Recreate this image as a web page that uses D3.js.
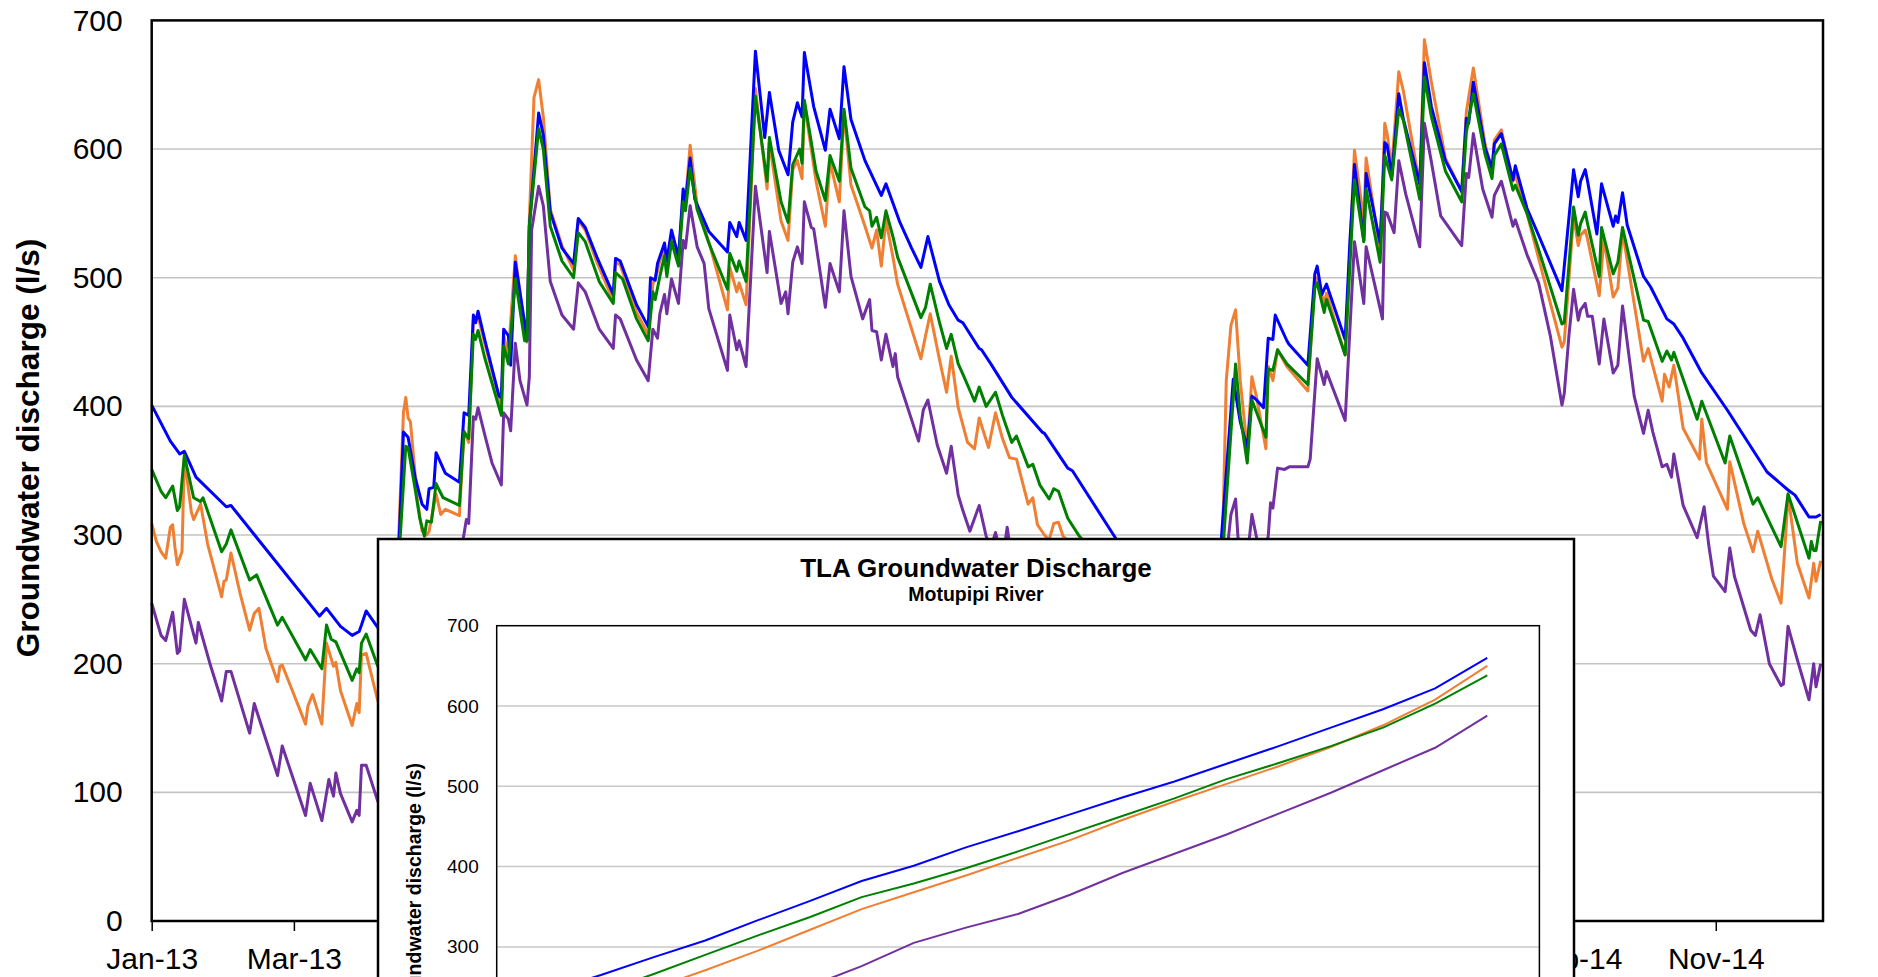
<!DOCTYPE html>
<html>
<head>
<meta charset="utf-8">
<script src="https://cdn.jsdelivr.net/npm/d3@7"></script>
<style>
  body { margin: 0; background: #fff; overflow: hidden; }
  text { font-family: Arial, "Liberation Sans", sans-serif; }
</style>
</head>
<body>
<div id="chart"></div>
<script>
//groundwater discharge, daily from 1 Jan 2013 (x = day number)

//tick labels
const yTicks = [0, 100, 200, 300, 400, 500, 600, 700];
const xTickDays = [0, 61, 122, 183, 244, 305, 366, 427, 488, 549, 610, 671];
const xTickLabels = ["Jan-13", "Mar-13", "May-13", "Jul-13", "Sep-13", "Nov-13",
                     "Jan-14", "Mar-14", "May-14", "Jul-14", "Sep-14", "Nov-14"];

//main series, [day, l/s]
const flowBlue = [
  [0,401],[8,373],[12,363],[14,365],[19,345],[32,322],[34,323],[72,237],[75,243],[81,229],[86,222],[89,225],[90,230],[92,241],[97,228],
  [101,222],[104,218],[106,290],
  [108,380],[110,376],[113,345],[116,324],[118,320],[119,336],[121,337],[122,364],[126,348],[132,341],[134,395],[136,393],[138,471],[139,465],[140,474],[143,451],[149,408],[150,407],[151,460],[153,455],[154,432],[156,512],[160,465],[161,451],[162,540],[166,628],[168,611],[171,551],[176,523],[181,511],[183,546],[186,539],[191,516],[198,487],[199,515],[201,513],[208,479],[213,462],[214,500],[216,498],[217,511],
  [220,527],[221,513],[223,537],[226,516],[228,569],[229,559],[231,593],[233,561],[239,536],[247,520],[248,543],[251,532],[252,543],[255,529],[259,676],[263,609],[265,644],[269,599],[273,580],[275,621],[277,636],[279,625],[280,675],[284,633],[289,599],[291,631],[295,608],[297,664],[300,623],[306,591],[313,564],[315,573],[321,543],[326,523],[330,508],[333,532],[338,497],[342,479],[346,467],
  [348,465],[355,445],[356,444],[360,433],[369,407],[382,380],[383,379],[393,352],[395,350],[413,299],
  [425,265],[440,235],[455,215],[458,240],
  [459,300],[464,421],[467,388],[470,368],
  [472,408],[474,405],[477,399],[479,453],[481,452],[482,471],[487,451],[488,448],[496,432],[499,503],[500,509],[502,487],[504,495],[512,452],[514,527],[516,588],[520,529],[521,581],[527,527],[529,605],[530,603],[532,579],[535,643],[537,623],[544,573],[546,667],[549,633],[555,591],[562,567],[564,624],[565,620],[567,652],[572,601],[575,585],[576,604],[579,612],[584,576],[585,587],[590,554],[595,533],
  [605,490],[610,584],[612,563],[613,575],[615,584],[616,575],[620,534],[622,573],[627,540],[628,548],[629,543],[631,566],[633,541],[640,501],[643,493],[650,468],[653,464],[657,453],[665,426],[676,397],[693,349],[702,335],[705,331],[711,314],[714,314],[716,316]
];

const flowOrange = [
  [0,309],[2,295],[4,287],[6,282],[8,306],[9,308],[10,290],[11,277],[13,287],[14,360],[17,318],[18,312],[19,316],[21,324],[24,293],[30,252],[31,264],[32,265],[34,286],[38,254],[42,226],[44,239],[46,243],[49,212],[54,186],[55,198],[56,199],[61,176],[66,153],[67,167],[69,176],[73,153],[75,216],[78,198],[79,201],[81,179],[86,152],[88,169],[89,162],[90,207],[92,208],[97,171],
  [101,162],[104,158],[106,300],
  [108,395],[109,407],[110,391],[111,388],[114,327],[116,303],[118,300],[119,303],[122,332],[124,316],[126,320],[132,315],[134,381],[136,372],[138,467],[140,470],[143,448],[150,400],[151,455],[153,440],[156,517],[160,460],[161,450],[162,545],[164,640],[166,654],[168,625],[171,553],[176,525],[181,506],[183,545],[186,537],[191,512],[198,482],[199,512],[201,510],[208,473],[213,456],[215,495],[217,505],[218,513],
  [220,522],[221,509],[223,535],[226,513],[228,565],[229,560],[231,603],[234,556],[239,528],[247,475],[248,508],[251,489],[252,496],[255,479],[259,647],[264,569],[265,605],[270,544],[273,529],[275,584],[277,591],[279,577],[280,636],[285,575],[289,540],[291,590],[295,559],[297,629],[300,572],[306,540],[309,523],[311,537],[313,509],[315,545],[318,516],[320,495],[330,437],[332,455],[334,472],[338,436],[341,411],[343,439],[346,399],
  [350,372],[353,367],[355,391],[359,368],[362,395],[365,375],[368,360],[371,359],[376,324],[378,329],[380,308],[383,300],
  [385,296],[387,309],[389,310],[391,299],[400,285],[420,245],[440,215],[455,200],[459,260],
  [461,420],[463,463],[465,475],[467,420],[470,367],
  [472,423],[474,407],[478,367],[479,431],[481,420],[483,444],[487,431],[496,412],[499,497],[500,500],[503,480],[504,488],[512,440],[516,599],[520,545],[521,593],[527,520],[529,620],[530,612],[532,585],[535,660],[537,645],[544,572],[546,685],[549,652],[555,593],[562,567],[564,629],[567,663],[572,604],[575,583],[576,607],[579,615],[584,575],[585,580],[590,550],[596,508],
  [605,446],[606,450],[610,548],[612,525],[613,533],[615,537],[616,530],[621,486],[623,530],[627,485],[629,492],[631,536],[640,435],[642,445],[648,404],[649,425],[651,415],[653,432],[657,383],[664,359],[665,390],[667,356],[676,320],[677,357],[683,309],[687,287],[689,303],[695,266],[699,247],[701,300],[702,331],[706,278],[711,251],[713,278],[714,264],[716,280]
];

const flowGreen = [
  [0,351],[4,334],[6,329],[9,338],[11,319],[12,322],[14,362],[18,329],[21,326],[22,329],[30,287],[32,293],[34,304],[42,265],[45,269],[54,230],[56,236],[66,203],[68,211],[73,196],[75,230],[77,219],[79,217],[86,187],[88,196],[89,193],[90,216],[92,223],[97,198],
  [101,190],[104,186],[106,280],
  [109,369],[110,368],[113,336],[115,313],[117,299],[118,311],[120,310],[122,340],[125,329],[132,323],[134,380],[136,375],[138,456],[139,452],[140,459],[143,437],[150,393],[151,447],[153,433],[156,499],[160,451],[161,451],[162,540],[166,616],[168,600],[171,540],[176,513],[181,500],[183,535],[186,528],[192,497],[198,480],[199,504],[202,499],[208,468],[213,451],[215,489],[216,483],[218,501],
  [220,517],[221,501],[223,528],[226,509],[228,559],[229,552],[231,585],[234,553],[239,527],[247,491],[248,519],[251,505],[252,513],[255,497],[259,641],[264,575],[265,609],[270,559],[273,543],[275,588],[278,600],[279,589],[280,638],[285,583],[289,560],[291,595],[295,575],[297,631],[300,585],[306,555],[308,552],[309,540],[311,547],[313,531],[315,552],[318,532],[320,516],[330,469],[332,477],[334,495],[338,465],[341,445],[343,456],[346,433],
  [348,425],[353,404],[355,415],[358,400],[362,411],[365,393],[369,372],[371,377],[376,353],[378,355],[381,339],[385,328],[387,336],[389,334],[393,313],[398,299],
  [405,285],[420,255],[440,225],[455,210],[459,250],
  [460,300],[465,433],[467,393],[470,356],
  [472,405],[478,376],[479,429],[481,428],[483,444],[487,433],[496,417],[499,492],[500,496],[503,473],[504,483],[512,440],[516,576],[520,528],[521,569],[527,512],[529,595],[532,576],[535,631],[537,622],[544,561],[546,656],[549,625],[555,583],[562,559],[564,613],[567,643],[572,596],[575,577],[576,595],[579,604],[584,568],[585,572],[590,550],[595,522],
  [605,464],[606,465],[610,555],[612,533],[613,542],[615,551],[616,542],[621,501],[622,539],[627,503],[629,512],[631,539],[640,467],[642,466],[648,435],[650,443],[652,436],[653,442],[663,390],[665,404],[675,356],[677,377],[687,324],[689,329],[699,291],[702,332],[711,282],[712,295],[713,288],[714,288],[716,311]
];

const flowPurple = [
  [0,247],[4,222],[6,218],[9,240],[11,208],[12,210],[14,250],[19,216],[20,232],[25,200],[30,171],[32,194],[34,194],[42,146],[44,169],[54,113],[56,136],[66,82],[68,107],[73,78],[76,110],[78,97],[79,115],[81,99],[86,77],[88,86],[89,82],[90,121],[92,121],[97,93],
  [101,85],[106,95],[110,190],[115,230],[120,215],[125,240],[130,225],[133,290],
  [135,312],[136,309],[138,392],[139,390],[140,399],[143,377],[146,356],[150,339],[151,395],[153,390],[154,381],[156,449],[158,420],[161,401],[162,423],[163,537],[166,571],[168,556],[171,497],[176,471],[181,460],[183,496],[186,489],[192,460],[198,445],[199,471],[201,468],[208,436],[213,420],[215,460],[217,453],[218,472],
  [220,487],[221,472],[223,499],[226,480],[228,529],[229,523],[231,556],[234,524],[237,511],[239,476],[247,428],[248,471],[251,444],[252,451],[255,431],[259,571],[264,504],[265,536],[270,480],[272,489],[273,472],[275,512],[277,524],[279,511],[280,559],[283,539],[284,538],[289,477],[291,511],[295,489],[297,552],[300,501],[305,468],[308,483],[309,459],[311,458],[313,436],[315,456],[318,431],[319,441],[320,423],[329,373],[331,397],[333,405],[337,370],[341,348],[343,369],[346,331],
  [348,319],[351,303],[355,323],[358,299],
  [360,290],[362,302],[365,280],[367,306],[370,270],[390,230],[420,185],[445,160],[455,170],[460,240],
  [462,299],[463,316],[465,328],[466,299],[468,270],[471,299],[472,316],[474,298],[476,280],[479,299],[480,325],[481,321],[483,352],[486,351],[488,353],[496,353],[497,359],[500,437],[503,417],[504,427],[512,389],[516,528],[520,480],[521,524],[528,468],[529,551],[530,550],[533,535],[535,591],[538,565],[544,524],[546,620],[549,590],[553,548],[562,525],[564,581],[565,578],[567,612],[571,569],[575,547],[576,564],[579,575],[584,540],[585,545],[590,518],[595,496],
  [600,455],[605,401],[606,410],[608,455],[610,491],[612,467],[613,475],[615,480],[616,470],[618,470],[621,433],[623,468],[627,426],[629,432],[631,478],[636,408],[640,379],[642,397],[644,380],[648,353],[650,355],[652,345],[653,363],[657,323],[663,298],[666,322],[668,292],[670,268],[675,256],[677,290],[679,268],[686,226],[688,222],[690,238],[694,200],[699,183],[700,184],[702,229],[706,203],[711,172],[713,200],[714,182],[716,200]
];

//inset chart (its x axis lies below the visible area)
const insetTicks = [0, 100, 200, 300, 400, 500, 600, 700];
const insetX = [5, 10, 15, 20, 25, 30, 35, 40, 45, 50, 55, 60, 65, 70, 75, 80, 85, 90, 95];
const insetBlue   = [245, 265, 287, 308, 333, 357, 382, 401, 424, 444, 465, 486, 506, 528, 550, 573, 596, 622, 660];
const insetOrange = [205, 225, 248, 271, 295, 321, 347, 368, 389, 411, 433, 458, 481, 503, 525, 549, 576, 608, 650];
const insetGreen  = [225, 243, 266, 290, 314, 337, 362, 379, 398, 419, 441, 463, 485, 509, 529, 550, 573, 603, 638];
const insetPurple = [140, 160, 182, 204, 227, 251, 276, 305, 324, 341, 365, 392, 416, 440, 466, 492, 520, 548, 588];

const colors = { blue: "#0000ff", orange: "#ef7f32", green: "#008000", purple: "#7030a0" };

//inset box position
const insetLeft = 378, insetRight = 1574, insetTop = 539;

var svg = d3.select("#chart").append("svg")
    .attr("width", 1878)
    .attr("height", 977);

//main scales
var x = d3.scaleLinear().domain([0, 717]).range([151.7, 1823]);
var y = d3.scaleLinear().domain([0, 700]).range([921, 20.4]);

//gridlines
svg.append("g")
    .selectAll("line")
    .data(yTicks.filter(function(d) { return d > 0 && d < 700; }))
    .enter()
    .append("line")
    .attr("x1", x(0)).attr("x2", x(717))
    .attr("y1", function(d) { return y(d); })
    .attr("y2", function(d) { return y(d); })
    .attr("stroke", "#c4c4c4")
    .attr("stroke-width", 1.6);

//series lines, later ones on top
var line = d3.line()
    .x(function(d) { return x(d[0]); })
    .y(function(d) { return y(d[1]); });

[[flowPurple, colors.purple], [flowOrange, colors.orange], [flowBlue, colors.blue], [flowGreen, colors.green]]
  .forEach(function(s) {
    svg.append("path")
        .datum(s[0])
        .attr("d", line)
        .attr("fill", "none")
        .attr("stroke", s[1])
        .attr("stroke-width", 3)
        .attr("stroke-linejoin", "round");
  });

//y axis labels
var yAxis = svg.append("g")
    .attr("transform", "translate(" + x(0) + ",0)")
    .call(d3.axisLeft(y).tickValues(yTicks).tickSize(0).tickPadding(29));
yAxis.select(".domain").remove();
yAxis.selectAll("text")
    .attr("font-size", 30)
    .attr("font-family", "Arial, 'Liberation Sans', sans-serif")
    .attr("fill", "#000");

//x axis
var xAxis = svg.append("g")
    .attr("transform", "translate(0," + y(0) + ")")
    .call(d3.axisBottom(x).tickValues(xTickDays)
        .tickFormat(function(d, i) { return xTickLabels[i]; })
        .tickSize(10).tickPadding(17));
xAxis.select(".domain").remove();
xAxis.selectAll("line").attr("stroke", "#000").attr("stroke-width", 1.5);
xAxis.selectAll("text")
    .attr("font-size", 30)
    .attr("font-family", "Arial, 'Liberation Sans', sans-serif")
    .attr("fill", "#000");

//labels that sit fully under the inset can't be seen anyway
xAxis.selectAll(".tick")
    .filter(function(d) { return x(d) - 50 > insetLeft && x(d) + 50 < insetRight; })
    .select("text").remove();

//plot frame
svg.append("rect")
    .attr("x", x(0)).attr("y", y(700))
    .attr("width", x(717) - x(0))
    .attr("height", y(0) - y(700))
    .attr("fill", "none")
    .attr("stroke", "#000")
    .attr("stroke-width", 2.5);

//y-axis title
svg.append("text")
    .attr("transform", "translate(39,448) rotate(-90)")
    .attr("text-anchor", "middle")
    .attr("font-size", 31.5)
    .attr("font-weight", "bold")
    .text("Groundwater discharge (l/s)");

// ---- inset chart pasted over the main one ----
var inset = svg.append("g");

inset.append("rect")
    .attr("x", insetLeft).attr("y", insetTop)
    .attr("width", insetRight - insetLeft).attr("height", 700)
    .attr("fill", "#fff")
    .attr("stroke", "#000")
    .attr("stroke-width", 2.5);

var ix = d3.scaleLinear().domain([0, 100]).range([496.7, 1539.4]);
var iy = d3.scaleLinear().domain([0, 700]).range([1187.8, 625.7]);

inset.append("g")
    .selectAll("line")
    .data(insetTicks.filter(function(d) { return d > 0 && d < 700; }))
    .enter()
    .append("line")
    .attr("x1", ix(0)).attr("x2", ix(100))
    .attr("y1", function(d) { return iy(d); })
    .attr("y2", function(d) { return iy(d); })
    .attr("stroke", "#c8c8c8")
    .attr("stroke-width", 1.5);

var iline = d3.line()
    .x(function(d, i) { return ix(insetX[i]); })
    .y(function(d) { return iy(d); });

[[insetPurple, colors.purple], [insetOrange, colors.orange], [insetGreen, colors.green], [insetBlue, colors.blue]]
  .forEach(function(s) {
    inset.append("path")
        .datum(s[0])
        .attr("d", iline)
        .attr("fill", "none")
        .attr("stroke", s[1])
        .attr("stroke-width", 2);
  });

inset.append("rect")
    .attr("x", ix(0)).attr("y", iy(700))
    .attr("width", ix(100) - ix(0))
    .attr("height", iy(0) - iy(700))
    .attr("fill", "none")
    .attr("stroke", "#000")
    .attr("stroke-width", 1.5);

var iyAxis = inset.append("g")
    .attr("transform", "translate(" + ix(0) + ",0)")
    .call(d3.axisLeft(iy).tickValues(insetTicks).tickSize(0).tickPadding(18));
iyAxis.select(".domain").remove();
iyAxis.selectAll("text")
    .attr("font-size", 19)
    .attr("font-family", "Arial, 'Liberation Sans', sans-serif")
    .attr("fill", "#000");

//inset titles
inset.append("text")
    .attr("x", 976).attr("y", 577)
    .attr("text-anchor", "middle")
    .attr("font-size", 26)
    .attr("font-weight", "bold")
    .text("TLA Groundwater Discharge");

inset.append("text")
    .attr("x", 976).attr("y", 601)
    .attr("text-anchor", "middle")
    .attr("font-size", 19.5)
    .attr("font-weight", "bold")
    .text("Motupipi River");

inset.append("text")
    .attr("transform", "translate(421,763) rotate(-90)")
    .attr("text-anchor", "end")
    .attr("font-size", 19.5)
    .attr("font-weight", "bold")
    .text("Groundwater discharge (l/s)");
</script>
</body>
</html>
